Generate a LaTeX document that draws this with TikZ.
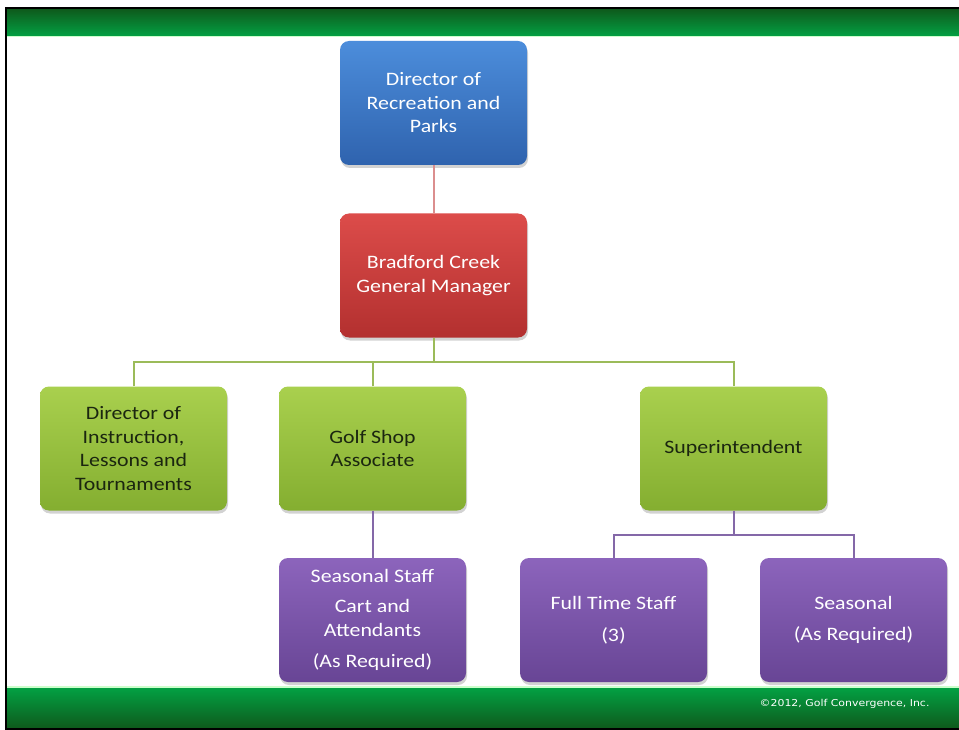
\documentclass[tikz,border=0pt]{standalone}
\usepackage{fontspec}
\setmainfont{Carlito}[FakeStretch=1.15]
\newfontfamily\copyfont{DejaVu Sans}[FakeStretch=1.15]
\usetikzlibrary{shadows}
\definecolor{bardark}{HTML}{0E5A1C}
\definecolor{barbright}{HTML}{03A043}
\definecolor{bluetop}{HTML}{4C8DDB}
\definecolor{bluebot}{HTML}{2F63AE}
\definecolor{redtop}{HTML}{DC4C4A}
\definecolor{redbot}{HTML}{B3302F}
\definecolor{greentop}{HTML}{A9D04E}
\definecolor{greenbot}{HTML}{84AE30}
\definecolor{purpletop}{HTML}{8C64BC}
\definecolor{purplebot}{HTML}{684595}
\definecolor{pinkline}{HTML}{DB8E8E}
\definecolor{greenline}{HTML}{9BBB59}
\definecolor{purpleline}{HTML}{8468A8}
\definecolor{greentext}{HTML}{1B2610}
\begin{document}
\begin{tikzpicture}[x=1pt,y=1pt,
  orgbox/.style={rounded corners=9pt, minimum width=187pt, minimum height=124pt,
    align=center, inner sep=2pt, font=\fontsize{19}{23.5}\selectfont,
    drop shadow={opacity=0.35, shadow xshift=1pt, shadow yshift=-3pt}},
  bluebox/.style={orgbox, top color=bluetop, bottom color=bluebot, text=white},
  redbox/.style={orgbox, top color=redtop, bottom color=redbot, text=white},
  greenbox/.style={orgbox, top color=greentop, bottom color=greenbot, text=greentext},
  purplebox/.style={orgbox, top color=purpletop, bottom color=purplebot, text=white},
  pinkconn/.style={draw=pinkline, line width=2pt},
  greenconn/.style={draw=greenline, line width=2pt},
  purpleconn/.style={draw=purpleline, line width=2pt}]
\useasboundingbox (0,0) rectangle (959,-730);
\fill[white] (0,0) rectangle (959,-730);
% bars
\shade[top color=bardark, bottom color=barbright] (6,-9) rectangle (959,-36);
\fill[green!20!white] (6,-36) rectangle (959,-37.5);
\fill[green!20!white] (6,-686) rectangle (959,-688);
\shade[top color=barbright, bottom color=bardark] (6,-688) rectangle (959,-728);
\draw[black, line width=2.2pt] (959,-8) -- (6,-8) -- (6,-729) -- (959,-729);
\node[anchor=east, text=white, font=\copyfont\fontsize{9.5}{11}\selectfont] (copy) at (933,-704) {©2012, Golf Convergence, Inc.};
% nodes
\node[bluebox] (blue) at (433.5,-103) {Director of\\Recreation and\\Parks};
\node[redbox] (red) at (433.5,-275.5) {Bradford Creek\\General Manager};
\node[greenbox] (g1) at (133.5,-448.5) {Director of\\Instruction,\\Lessons and\\Tournaments};
\node[greenbox] (g2) at (372.5,-448.5) {Golf Shop\\Associate};
\node[greenbox] (g3) at (733.5,-448.5) {Superintendent};
\node[purplebox] (p1) at (372.5,-620) {Seasonal Staff\\[7pt]Cart and\\Attendants\\[8pt](As Required)};
\node[purplebox] (p2) at (613.5,-620) {Full Time Staff\\[8pt](3)};
\node[purplebox] (p3) at (853.5,-620) {Seasonal\\[8pt](As Required)};
% connectors
\coordinate (bus) at (433.5,-362);
\coordinate (bus2) at (733.5,-535);
\draw[pinkconn] (blue.south) -- (red.north);
\draw[greenconn] (red.south) -- (bus);
\draw[greenconn] (g1.north) |- (bus) -| (g3.north);
\draw[greenconn] (g2.north) -- (g2.north |- bus);
\draw[purpleconn] (g2.south) -- (p1.north);
\draw[purpleconn] (g3.south) -- (bus2);
\draw[purpleconn] (p2.north) |- (bus2) -| (p3.north);
\end{tikzpicture}
\end{document}
